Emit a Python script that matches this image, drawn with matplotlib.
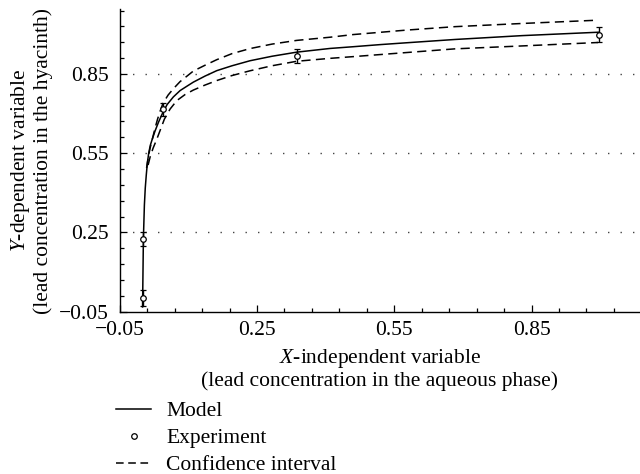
import numpy as np
import matplotlib
matplotlib.use("Agg")
import matplotlib.pyplot as plt
from matplotlib.lines import Line2D
from matplotlib.ticker import MultipleLocator, FixedLocator

plt.rcParams["font.family"] = ["Liberation Serif", "DejaVu Serif"]
plt.rcParams["mathtext.fontset"] = "custom"
plt.rcParams["mathtext.rm"] = "Liberation Serif"
plt.rcParams["mathtext.it"] = "Liberation Serif:italic"

# experimental points with error bars
exp_x = [0.0005, 0.002, 0.044, 0.337, 0.998]
exp_y = [0.003, 0.224, 0.716, 0.918, 0.999]
exp_err = [0.030, 0.027, 0.025, 0.028, 0.027]

# model curve
model_x = [0.0, 0.0018, 0.0040, 0.0059, 0.0081, 0.0105, 0.0134, 0.0171, 0.0219,
           0.0273, 0.0350, 0.0433, 0.0536, 0.0673, 0.0820, 0.0973, 0.111,
           0.1366, 0.1622, 0.1956, 0.2349, 0.283, 0.337, 0.4097, 0.460, 0.519,
           0.577, 0.683, 0.829, 0.9975]
model_y = [-0.032, 0.225, 0.354, 0.418, 0.467, 0.513, 0.550, 0.581, 0.607,
           0.634, 0.668, 0.700, 0.734, 0.763, 0.787, 0.804, 0.819,
           0.842, 0.8625, 0.881, 0.900, 0.917, 0.9325, 0.9465, 0.953, 0.961,
           0.968, 0.9805, 0.995, 1.008]

# confidence interval bounds
upper_x = [0.0088, 0.0121, 0.0164, 0.0219, 0.0273, 0.0328, 0.0383, 0.0448,
           0.0558, 0.0673, 0.082, 0.111, 0.1366, 0.1622, 0.1956, 0.2349,
           0.283, 0.337, 0.4097, 0.460, 0.577, 0.683, 0.829, 0.9953]
upper_y = [0.494, 0.531, 0.569, 0.607, 0.645, 0.679, 0.709, 0.7395,
           0.770, 0.794, 0.821, 0.861, 0.883, 0.904, 0.927, 0.946,
           0.963, 0.977, 0.989, 0.999, 1.016, 1.029, 1.041, 1.0535]
lower_x = [0.0121, 0.0164, 0.023, 0.0311, 0.0394, 0.0477, 0.0601, 0.0748,
           0.0929, 0.111, 0.1366, 0.1622, 0.1956, 0.2349, 0.283, 0.337,
           0.4097, 0.460, 0.577, 0.683, 0.829, 0.9953]
lower_y = [0.505, 0.535, 0.569, 0.603, 0.641, 0.679, 0.717, 0.749,
           0.772, 0.789, 0.808, 0.825, 0.844, 0.862, 0.881, 0.898,
           0.909, 0.9155, 0.931, 0.945, 0.956, 0.969]

major_ticks = [-0.05, 0.25, 0.55, 0.85]

fs = 15.5
fig = plt.figure(figsize=(6.4, 4.74), dpi=100)
ax = fig.add_axes([0.187, 0.3424, 0.813, 0.6376])

dash = (0, (6, 3.5))
ax.plot(model_x, model_y, color="black", lw=1.1, zorder=3)
ax.plot(upper_x, upper_y, color="black", lw=1.1, linestyle=dash, zorder=3)
ax.plot(lower_x, lower_y, color="black", lw=1.1, linestyle=dash, zorder=3)
ax.errorbar(exp_x, exp_y, yerr=exp_err, fmt="o", ms=4, mfc="white",
            mec="black", mew=0.9, ecolor="black", elinewidth=1.0,
            capsize=2.2, capthick=1.0, zorder=4)

for yv in major_ticks[1:]:
    ax.axhline(yv, color="#444444", lw=1.0, linestyle=(0, (1, 8)), zorder=1)

ax.set_xlim(-0.05, 1.087)
ax.set_ylim(-0.05, 1.094)
ax.xaxis.set_major_locator(FixedLocator(major_ticks))
ax.yaxis.set_major_locator(FixedLocator(major_ticks))
ax.xaxis.set_minor_locator(MultipleLocator(0.06, offset=-0.05))
ax.yaxis.set_minor_locator(MultipleLocator(0.06, offset=-0.05))
ax.tick_params(which="both", direction="in", top=False, right=False,
               labelsize=fs, width=0.9)
ax.tick_params(which="major", length=5)
ax.tick_params(which="minor", length=3)
ax.tick_params(axis="y", pad=8)
ax.tick_params(axis="x", pad=7)
for s in ["top", "right"]:
    ax.spines[s].set_visible(False)
for s in ["left", "bottom"]:
    ax.spines[s].set_linewidth(1.0)

ax.set_xlabel("$X$-independent variable\n(lead concentration in the aqueous phase)",
              fontsize=fs, labelpad=5, linespacing=1.05)
ax.set_ylabel("$Y$-dependent variable\n(lead concentration in the hyacinth)",
              fontsize=fs, labelpad=4, linespacing=1.1)

handles = [
    Line2D([], [], color="black", lw=1.1),
    Line2D([], [], color="black", marker="o", ms=4, mfc="white", mew=0.9, ls="none"),
    Line2D([], [], color="black", lw=1.1, linestyle=(0, (5, 3))),
]
fig.legend(handles, ["Model", "Experiment", "Confidence interval"],
           loc="upper left", bbox_to_anchor=(0.182, 0.154), frameon=False,
           fontsize=fs, handlelength=1.6, handletextpad=0.7, labelspacing=0.33,
           borderpad=0, borderaxespad=0)

fig.savefig("out.png", dpi=100)
